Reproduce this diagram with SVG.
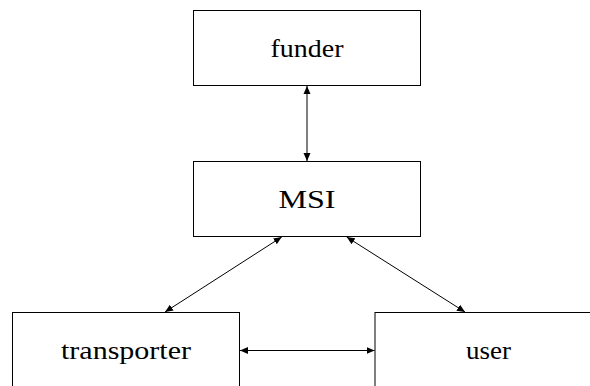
<svg xmlns="http://www.w3.org/2000/svg" width="590" height="386" viewBox="0 0 590 386">
<style>
.box{fill:#fff;stroke:#000;stroke-width:1}
.lbl{font-family:'Liberation Serif','DejaVu Serif',serif;font-size:26px;fill:#000;text-anchor:middle}
.con{stroke:#000;stroke-width:1;fill:none;marker-start:url(#ah);marker-end:url(#ah)}
</style>
<defs>
<marker id="ah" markerUnits="userSpaceOnUse" markerWidth="10" markerHeight="8" refX="8" refY="4" orient="auto-start-reverse" viewBox="0 0 10 8">
<path d="M0,0.5 L8,4 L0,7.5 Z" fill="#000"/>
</marker>
</defs>
<g id="funder"><rect class="box" x="193.5" y="10.5" width="227" height="75"/><text class="lbl" font-family="Liberation Serif, serif" x="307" y="57" textLength="73" lengthAdjust="spacingAndGlyphs">funder</text></g>
<g id="msi"><rect class="box" x="193.5" y="161.5" width="227" height="75"/><text class="lbl" font-family="Liberation Serif, serif" x="307" y="208" textLength="57" lengthAdjust="spacingAndGlyphs">MSI</text></g>
<g id="transporter"><rect class="box" x="12.5" y="312.5" width="227" height="75"/><text class="lbl" font-family="Liberation Serif, serif" x="126" y="359" textLength="130" lengthAdjust="spacingAndGlyphs">transporter</text></g>
<g id="user"><rect class="box" x="375" y="312.5" width="227" height="75"/><text class="lbl" font-family="Liberation Serif, serif" x="488.5" y="359" textLength="45" lengthAdjust="spacingAndGlyphs">user</text></g>
<g id="connectors">
<line class="con" x1="307" y1="86" x2="307" y2="161"/>
<line class="con" x1="281.7" y1="237" x2="165" y2="312"/>
<line class="con" x1="346.7" y1="237" x2="465" y2="312"/>
<line class="con" x1="240" y1="350.5" x2="374.5" y2="350.5"/>
</g>
</svg>
